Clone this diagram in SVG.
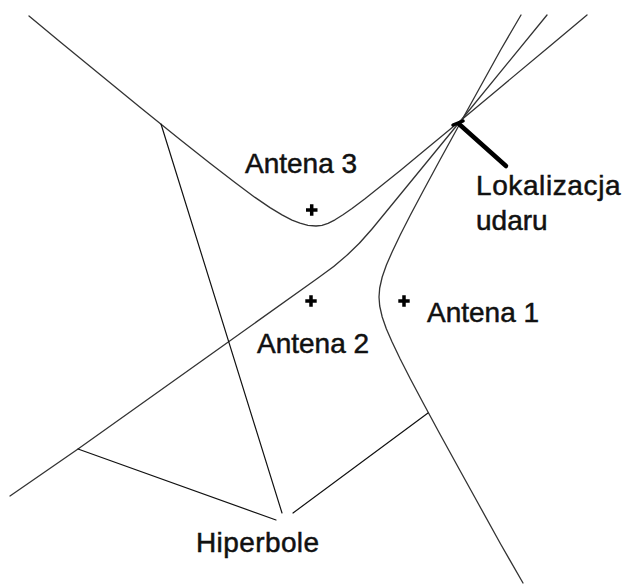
<svg xmlns="http://www.w3.org/2000/svg" width="626" height="585" viewBox="0 0 626 585">
<style>
.curve{fill:none;stroke:#333;stroke-width:1.3;stroke-linejoin:round;stroke-linecap:round}
.lead{fill:none;stroke:#111;stroke-width:1.2;stroke-linecap:round}
.ptr{fill:none;stroke:#000;stroke-width:4.5;stroke-linecap:round}
.plus{stroke:#000;stroke-width:3.5}
.lbl{font-family:"Liberation Sans",Arial,sans-serif;font-size:28px;fill:#111;stroke:#111;stroke-width:0.5}
</style>
<rect width="626" height="585" fill="#fff"/>
<g id="connectors">
  <polyline id="hyperbola-3" class="curve" points="29,16 60,41.7 100,74.5 140,107.2 180,139.5 210,163.3 235,182.6 255,197.4 270,207.6 282,214.9 292,220.1 300,223.2 308,225.3 316,226 322,225.3 328,223.3 335,219.8 343,214.8 352,208.5 365,198.7 380,186.8 400,170.7 425,150.1 458,122.8 500,87.7 550,45.9 587,15"/>
  <path id="hyperbola-2" class="curve" d="M10,496 L78,449 L203,360 L318,278 Q349,257 372,229 L458,124 L547,15"/>
  <polyline id="hyperbola-1" class="curve" points="521,15 500.6,50 478.5,90 459.7,124 439.9,160 423.7,190 410.4,215 400.2,235 392.1,252 386.4,265 382.2,277 379.7,288 379,297 379.7,306 382.2,317 386.4,329 392.1,342 400.2,359 410.4,379 423.7,404 439.9,434 459.7,470 478.5,504 500.6,544 523,583"/>
  <line class="lead" x1="161" y1="124" x2="282" y2="513"/>
  <line class="lead" x1="78" y1="449" x2="276" y2="520"/>
  <line class="lead" x1="293" y1="513" x2="428" y2="413"/>
  <line class="ptr" x1="459" y1="124" x2="506" y2="166"/>
  <line class="ptr" x1="453" y1="125" x2="463" y2="121" style="stroke-width:3.5"/>
</g>
<g id="antena-3">
  <path class="plus" d="M306,210 H317.5 M311.7,204.3 V215.7"/>
  <text class="lbl" x="245" y="173">Antena 3</text>
</g>
<g id="antena-2">
  <path class="plus" d="M305.3,301 H316.7 M311,295.3 V306.7"/>
  <text class="lbl" x="257" y="353">Antena 2</text>
</g>
<g id="antena-1">
  <path class="plus" d="M398.3,301 H409.7 M404,295.3 V306.7"/>
  <text class="lbl" x="427" y="322">Antena 1</text>
</g>
<g id="lokalizacja">
  <text class="lbl" x="476" y="195" letter-spacing="0.6">Lokalizacja</text>
  <text class="lbl" x="476" y="230">udaru</text>
</g>
<g id="hiperbole">
  <text class="lbl" x="196" y="552" letter-spacing="0.4">Hiperbole</text>
</g>
</svg>
